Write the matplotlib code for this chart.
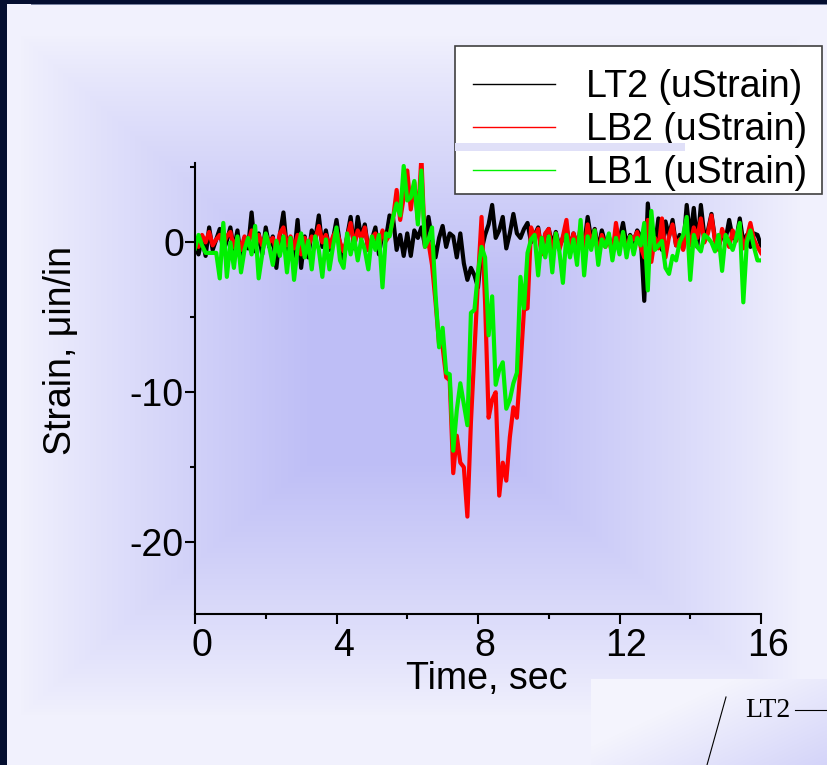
import matplotlib
matplotlib.use("Agg")
import matplotlib.pyplot as plt
import matplotlib.transforms as mtransforms
from matplotlib.lines import Line2D
from matplotlib.patches import Rectangle
import numpy as np

plt.rcParams['font.family'] = ['Liberation Sans', 'DejaVu Sans']
plt.rcParams['axes.unicode_minus'] = False

# strain gauge records, sampled every 0.1 s
time_s = np.linspace(0, 16, 161)

lt2 = [
    -0.3, -0.8, 0.3, -0.9, 1.0, -0.5, 0.2, 0.9, -0.6, 0.1,
    1.0, -0.5, 0.8, -1.2, 0.3, -0.4, 2.0, -0.6, 0.6, -0.8,
    1.0, -0.3, 0.4, -1.7, 0.5, 2.0, -0.5, 0.3, -0.9, 1.5,
    -1.7, 0.4, -1.0, 0.8, 0.2, 1.8, -0.3, 0.8, -0.5, 0.2,
    1.5, -0.2, -1.2, 0.4, 1.7, -0.4, 1.7, 0.3, 1.2, -0.5,
    0.2, 1.0, -0.8, 0.6, 0.3, 1.8, 1.6, -0.5, 0.5, -0.9,
    0.6, -0.9, 0.8, 0.3, 1.0, -0.2, 1.7, 0.2, -1.0, 0.3,
    1.1, -0.3, 0.6, 0.4, -1.0, 0.6, -1.4, -2.5, -1.7, -2.2,
    -3.0, -0.5, 0.5, 1.2, 2.5, 0.3, 0.8, 1.7, -0.4, 0.6,
    1.9, 0.6, 0.3, 0.9, 1.3, 0.0, 0.5, 1.0, -0.6, 0.5,
    0.9, -0.2, 0.7, -0.3, 0.3, 1.0, -0.4, 0.6, -0.2, 0.4,
    -0.2, 1.7, 0.2, 0.9, -0.5, 0.8, -0.1, 0.4, -0.6, 0.5,
    0.2, 1.3, -0.2, 0.5, 0.0, 0.8, 0.4, -3.9, 2.6, 0.0,
    -0.3, 1.6, -0.5, 1.4, 0.4, 1.5, -0.2, 0.5, -0.4, 2.5,
    0.3, 2.3, -0.3, 2.5, 0.4, 0.8, 1.9, 0.2, -0.3, 0.5,
    0.2, 1.5, 0.3, 0.2, 1.6, 0.0, 0.5, -0.3, 0.6, 0.5,
    -0.2,
]

lb2 = [
    0.2, -0.3, 0.5, 0.0, 0.7, -0.2, 0.2, 0.5, -0.1, 0.4,
    0.7, -0.3, 0.3, -0.5, 0.4, 0.0, 0.8, -0.3, 0.5, -0.2,
    0.5, 0.0, 0.3, -0.6, 0.6, 1.0, -0.2, 0.4, -0.4, 0.5,
    -0.8, 0.3, -0.3, 0.4, 0.2, 1.1, 0.0, 0.5, -0.3, 0.4,
    0.8, 0.0, -0.6, 0.3, 1.3, -0.2, 0.8, 0.3, 1.0, -0.5,
    0.3, 0.6, -0.3, 0.8, 0.1, 0.5, 1.6, 3.5, 1.5, 3.0,
    4.8, 2.2, 4.0, 1.5, 5.7, -0.3, 0.0, -1.5, -4.0, -6.8,
    -7.0, -9.0, -9.2, -15.4, -12.9, -14.7, -15.0, -18.3, -12.0, -7.2,
    -2.5, 1.7, -4.0, -11.7, -10.5, -10.0, -16.9, -14.7, -15.9, -13.0,
    -11.0, -11.7, -8.3, -4.5, -4.4, 1.0, 0.3, 0.9, -0.8, 0.6,
    0.9, -0.8, 0.6, -0.5, 0.4, 1.5, -0.7, 0.6, -0.3, 1.0,
    -0.6, 1.2, -0.2, 0.8, -0.9, 0.5, -0.3, 0.2, -0.8, 1.3,
    -0.2, 0.6, -0.6, 0.4, 0.2, 0.7, -0.3, -1.0, 1.5, -1.3,
    0.3, -0.4, 1.6, -1.0, 0.4, 1.2, -0.2, 0.2, -0.5, 0.8,
    -0.2, 1.0, 0.3, 1.6, 0.0, 0.6, 1.8, 0.1, -0.5, 0.9,
    0.2, -0.3, 0.8, 0.1, 1.0, -0.4, 0.3, 1.3, 0.2, -0.3,
    -0.7,
]

lb1 = [
    -0.4, 0.5, -0.2, -0.7, -0.7, -0.7, -0.7, -2.4, 1.3, -2.3,
    0.0, -1.7, 0.4, -2.0, -0.5, 0.3, -0.8, 1.1, -2.4, -0.8,
    0.6, -0.3, -1.5, 0.1, -0.9, 0.4, -2.0, 0.3, -2.5, -0.4,
    0.6, -1.0, 0.1, -1.8, 0.4, -0.5, -2.3, 0.2, -1.8, -0.3,
    1.0, -1.2, -1.7, 0.6, -0.8, 0.3, -1.2, 0.2, -0.5, -1.8,
    0.4, -0.5, 0.5, -3.0, 0.6, 0.4, 1.7, 2.6, 1.8, 5.1,
    2.8, 3.0, 4.1, 1.2, 4.8, -0.3, 0.2, 1.0, -3.5, -7.0,
    -5.7, -8.7, -8.8, -13.9, -11.2, -9.4, -10.8, -12.2, -4.7, -4.5,
    -2.0, -0.3, -1.0, -6.2, -3.6, -9.5, -8.5, -8.0, -11.1, -10.5,
    -9.4, -8.7, -2.3, -4.4, -0.7, 0.2, 0.5, -2.2, 0.3, -1.0,
    0.4, -2.0, 0.6, -0.6, -2.7, 0.5, -1.0, 0.2, -1.5, 1.5,
    -2.2, 0.4, -0.5, 0.8, -1.5, 0.2, -0.3, 0.6, -1.2, 0.3,
    -0.8, 0.7, -1.0, 0.4, -0.8, 0.3, -0.2, 1.3, -3.2, 2.1,
    -0.5, -0.2, 0.1, -1.7, -2.1, -0.9, -1.2, 0.0, 0.5, 1.7,
    -2.5, 0.5, -0.3, -0.6, 0.5, 0.3, 0.0, -0.6, 0.5, -1.9,
    0.5, 0.0, -0.5, 0.3, 1.3, -4.0, 0.0, 0.8, -0.3, -1.2,
    -1.2,
]

series_names = ['LT2 (uStrain)', 'LB2 (uStrain)', 'LB1 (uStrain)']
series_colors = ['#000000', '#ff0000', '#00f000']
x_ticks = [0, 4, 8, 12, 16]
y_ticks = [0, -10, -20]
y_tick_labels = ['0', '-10', '-20']

W, H = 827, 765
fig = plt.figure(figsize=(W / 100, H / 100), dpi=100)

# slide background: lavender with a soft bluish centre
yy, xx = np.mgrid[0:H, 0:W]
edge = np.array([241, 241, 253]) / 255
core = np.array([190, 190, 246]) / 255
d = np.maximum(np.abs(xx - 410) / 390, np.abs(yy - 375) / 340)
w = np.clip((1 - d) / 0.75, 0, 1) ** 0.9
img = edge + (core - edge) * w[..., None]

# lighter box in the lower right corner
box = (xx >= 591) & (yy >= 679)
w2 = np.clip(((xx - 690) / 140 + (yy - 700) / 65) / 2, 0, 1) * 0.6
boxcol = np.array([244, 244, 253]) / 255
img[box] = (boxcol + (core - boxcol) * w2[..., None])[box]

# dark slide frame on the top and left edges
navy = np.array([4, 14, 48]) / 255
img[:4, :] = navy
img[:, :7] = navy
img[4, 31:] = np.array([120, 130, 160]) / 255

bg = fig.add_axes([0, 0, 1, 1], zorder=-10)
bg.imshow(img, extent=[0, W, H, 0], aspect='auto', interpolation='bilinear')
bg.set_xlim(0, W)
bg.set_ylim(H, 0)
bg.axis('off')

ax = fig.add_axes([195 / W, 1 - 614 / H, 566 / W, 451 / H])
ax.set_facecolor('none')

for vals, name, col in zip([lt2, lb2, lb1], series_names, series_colors):
    ax.plot(time_s, vals, color=col, lw=3.0, label=name, solid_joinstyle='round')

ax.set_xlim(0, 16)
ax.set_ylim(-24.8, 5.3)
ax.spines['top'].set_visible(False)
ax.spines['right'].set_visible(False)
for s in ['left', 'bottom']:
    ax.spines[s].set_linewidth(1.5)

ax.set_xticks(x_ticks)
ax.set_xticks([2, 6, 10, 14], minor=True)
ax.set_yticks(y_ticks)
ax.set_yticklabels(y_tick_labels)
ax.set_yticks([5, -5, -15], minor=True)
ax.tick_params(which='major', length=7, width=1.5, labelsize=27)
ax.tick_params(which='minor', length=3.5, width=1.5)
ax.tick_params(axis='y', pad=1)
ax.tick_params(axis='x', pad=3)

offset = mtransforms.ScaledTranslation(7 / 100, 0, fig.dpi_scale_trans)
for lab in ax.get_xticklabels():
    lab.set_transform(lab.get_transform() + offset)

ax.set_xlabel('Time, sec', fontsize=27)
ax.xaxis.set_label_coords(0.516, -0.105)
ax.set_ylabel('Strain, \u03bcin/in', fontsize=27)
ax.yaxis.set_label_coords(-0.205, 0.585)

# legend box drawn separately so the entries can sit low inside it
frame = Rectangle((455 / W, 1 - 194 / H), 367 / W, 148 / H, transform=fig.transFigure,
                  facecolor='white', edgecolor='#404040', lw=1.2, zorder=4.5, clip_on=False)
ax.add_patch(frame)

handles = [Line2D([], [], color=c, lw=1.0) for c in series_colors]
leg = ax.legend(handles, series_names, loc='upper left',
                bbox_to_anchor=(473 / W, 1 - 69 / H), bbox_transform=fig.transFigure,
                borderaxespad=0, borderpad=0, fontsize=27, frameon=False,
                handlelength=2.19, handletextpad=0.83, labelspacing=0.19)

# overlay pieces drawn in pixel coordinates
ov = fig.add_axes([0, 0, 1, 1], zorder=10)
ov.set_xlim(0, W)
ov.set_ylim(H, 0)
ov.axis('off')
ov.add_patch(Rectangle((455, 143), 230, 8, facecolor='#e0e0f8', edgecolor='none'))
ov.plot([726, 707], [697, 765], color='black', lw=0.8)
ov.text(745, 717, 'LT2', family='Liberation Serif', fontsize=20, va='baseline', ha='left')
ov.plot([795, 827], [710, 710], color='black', lw=0.8)

fig.savefig('out.png', dpi=100)
